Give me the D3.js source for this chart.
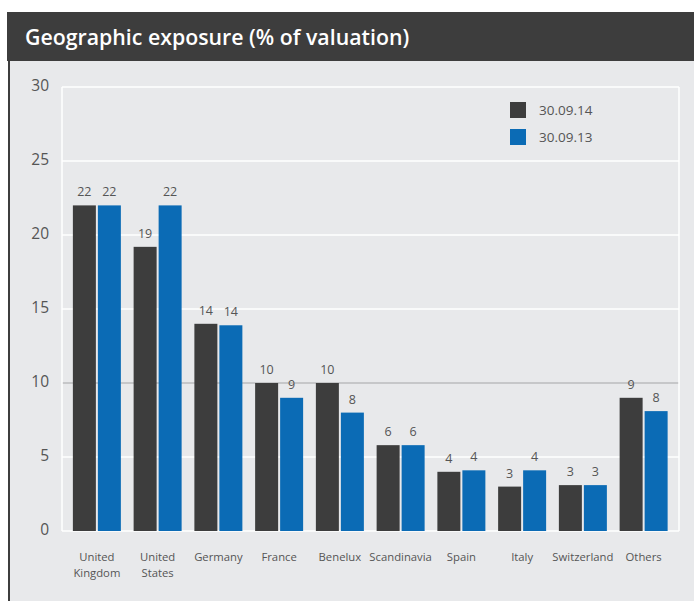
<!DOCTYPE html>
<html>
<head>
<meta charset="utf-8">
<script src="https://cdn.jsdelivr.net/npm/d3@7"></script>
<style>
  body { margin: 0; background: #fff; }
  text { font-family: "Open Sans", "Noto Sans", sans-serif; }
</style>
</head>
<body>
<div id="chart"></div>
<script>
// Chart data
const categories = ["United Kingdom", "United States", "Germany", "France", "Benelux",
    "Scandinavia", "Spain", "Italy", "Switzerland", "Others"];
const seriesNames = ["30.09.14", "30.09.13"];
const values2014 = [22, 19.2, 14, 10, 10, 5.8, 4, 3, 3.1, 9];
const values2013 = [22, 22, 13.9, 9, 8, 5.8, 4.1, 4.1, 3.1, 8.1];
const yTicks = [0, 5, 10, 15, 20, 25, 30];
const title = "Geographic exposure (% of valuation)";

const width = 694;
const height = 601;
const colors = ["#3d3d3d", "#0b6bb5"];

const svg = d3.select("#chart")
    .append("svg")
    .attr("width", width)
    .attr("height", height);

// Panel background and title bar
svg.append("rect")
    .attr("x", 8).attr("y", 61)
    .attr("width", width - 8).attr("height", height - 61)
    .attr("fill", "#e8e9eb");
svg.append("line")
    .attr("x1", 9).attr("x2", 9)
    .attr("y1", 61).attr("y2", height)
    .attr("stroke", "#3d3d3d").attr("stroke-width", 2);
svg.append("rect")
    .attr("x", 7).attr("y", 12)
    .attr("width", width - 7).attr("height", 49)
    .attr("fill", "#3d3d3d");
svg.append("text")
    .attr("x", 25).attr("y", 45)
    .attr("fill", "#fff")
    .attr("font-size", 21.3)
    .attr("font-weight", 600)
    .text(title);

// Scales
const plotLeft = 62, plotRight = 679, plotTop = 87, plotBottom = 531;

const y = d3.scaleLinear()
    .domain([0, 30])
    .range([plotBottom, plotTop]);

const x0 = d3.scaleBand()
    .domain(categories)
    .range([66.5, 674])
    .paddingInner(0.21)
    .paddingOuter(0.105);

const x1 = d3.scaleBand()
    .domain(seriesNames)
    .range([0, x0.bandwidth()])
    .paddingInner(0.08);

// Gridlines
svg.append("g")
    .selectAll("line")
    .data(yTicks)
    .join("line")
    .attr("x1", plotLeft).attr("x2", plotRight)
    .attr("y1", d => y(d)).attr("y2", d => y(d))
    .attr("stroke", d => d === 10 ? "#c6c7c9" : "#fff")
    .attr("stroke-width", d => d === 10 ? 2 : 1.5);

svg.append("line")
    .attr("x1", plotLeft).attr("x2", plotLeft)
    .attr("y1", plotTop).attr("y2", plotBottom)
    .attr("stroke", "#fff").attr("stroke-width", 1.5);
svg.append("line")
    .attr("x1", plotRight).attr("x2", plotRight)
    .attr("y1", plotTop).attr("y2", plotBottom)
    .attr("stroke", "#fff").attr("stroke-width", 1.5);

// Y axis labels
const yAxis = svg.append("g")
    .attr("transform", `translate(49,0)`)
    .call(d3.axisLeft(y).tickValues(yTicks).tickSize(0).tickPadding(0));
yAxis.select(".domain").remove();
yAxis.selectAll(".tick text")
    .attr("fill", "#555")
    .attr("font-size", 15.5)
    .attr("font-family", "'Open Sans', sans-serif")
    .attr("dy", "0.2em");

// Bars
const rows = categories.map((c, i) => ({
    category: c,
    values: [
        { key: seriesNames[0], value: values2014[i] },
        { key: seriesNames[1], value: values2013[i] }
    ]
}));

const groups = svg.append("g")
    .selectAll("g")
    .data(rows)
    .join("g")
    .attr("transform", d => `translate(${x0(d.category)},0)`);

groups.selectAll("rect")
    .data(d => d.values)
    .join("rect")
    .attr("x", d => x1(d.key))
    .attr("y", d => y(d.value))
    .attr("width", x1.bandwidth())
    .attr("height", d => y(0) - y(d.value))
    .attr("fill", (d, i) => colors[i]);

groups.selectAll("text.value")
    .data(d => d.values)
    .join("text")
    .attr("class", "value")
    .attr("x", d => x1(d.key) + x1.bandwidth() / 2)
    .attr("y", d => y(d.value) - 9)
    .attr("text-anchor", "middle")
    .attr("fill", "#555")
    .attr("font-size", 12.5)
    .text(d => d3.format(".0f")(d.value));

// X axis labels
const xLabels = svg.append("g")
    .selectAll("text")
    .data(categories)
    .join("text")
    .attr("x", d => x0(d) + x0.bandwidth() / 2)
    .attr("y", 561)
    .attr("text-anchor", "middle")
    .attr("fill", "#555")
    .attr("font-size", 11.3);

xLabels.each(function(d) {
    const parts = (d === "United Kingdom" || d === "United States") ? d.split(" ") : [d];
    d3.select(this).selectAll("tspan")
        .data(parts)
        .join("tspan")
        .attr("x", x0(d) + x0.bandwidth() / 2)
        .attr("dy", (p, i) => i === 0 ? 0 : 16)
        .text(p => p);
});

// Legend
const legend = svg.append("g")
    .selectAll("g")
    .data(seriesNames)
    .join("g")
    .attr("transform", (d, i) => `translate(510,${102 + i * 27})`);

legend.append("rect")
    .attr("width", 16).attr("height", 16)
    .attr("fill", (d, i) => colors[i]);

legend.append("text")
    .attr("x", 29).attr("y", 13)
    .attr("fill", "#555")
    .attr("font-size", 13.5)
    .text(d => d);
</script>
</body>
</html>
